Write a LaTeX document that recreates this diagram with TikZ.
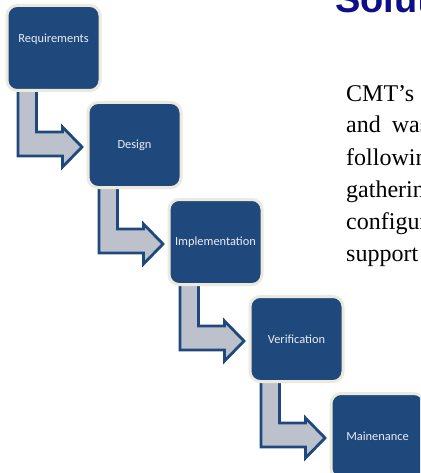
\documentclass[tikz,border=0pt]{standalone}
\usepackage{fontspec}
\setmainfont{Liberation Serif}
\newfontfamily\boxfont{Carlito}
\newfontfamily\titlefont{Liberation Sans}
\usetikzlibrary{calc,backgrounds}
\definecolor{boxblue}{HTML}{1F497D}
\definecolor{boxrim}{HTML}{ECEADC}
\definecolor{arrowfill}{HTML}{BDC1CC}
\definecolor{arrowline}{HTML}{1F497D}
\definecolor{titleblue}{RGB}{14,14,138}
\definecolor{boxtext}{RGB}{232,237,244}
\tikzset{
  stage/.style={draw=boxrim, line width=3pt, fill=boxblue, rounded corners=10pt,
    minimum width=93pt, minimum height=85pt, inner sep=0pt},
  stagetext/.style={text=boxtext, font=\boxfont\fontsize{12.4}{14}\selectfont, inner sep=0pt},
  flowarrow/.style={draw=arrowline, line width=2.8pt, fill=arrowfill, line join=miter},
  bodyline/.style={anchor=base west, inner sep=0pt, font=\fontsize{24}{30}\selectfont},
}
\newcommand{\stagearrow}[2]{%
  \draw[flowarrow] ($(#1.south west)+(12.5,-3)$) -- ($(#1.south west)+(12.5,64)$)
    -- ($(#1.south west)+(57,64)$) -- ($(#1.south west)+(57,75)$)
    -- ($(#2.west)+(-4.5,2)$) -- ($(#1.south west)+(57,35)$)
    -- ($(#1.south west)+(57,40)$) -- ($(#1.south west)+(31,40)$)
    -- ($(#1.south west)+(31,-3)$) -- cycle;}
\begin{document}
\begin{tikzpicture}[x=1pt,y=-1pt]
\useasboundingbox (0,0) rectangle (420,473);
\clip (0,0) rectangle (420,473);

% title
\node[anchor=base west, inner sep=0pt, text=titleblue,
      font=\titlefont\bfseries\fontsize{38}{44}\selectfont] (title) at (335,13) {Solut};

% body text
\node[bodyline] (p1) at (346,102) {CMT’s};
\node[bodyline] (p2) at (346,133) {and\hspace{5pt} was};
\node[bodyline] (p3) at (346,165) {followin};
\node[bodyline] (p4) at (346,197) {gatherin};
\node[bodyline] (p5) at (346,229) {configur};
\node[bodyline] (p6) at (346,261) {support};

% stages
\node[stage] (b1) at (53.5,48) {};
\node[stage] (b2) at (134.5,145) {};
\node[stage] (b3) at (215.5,242) {};
\node[stage] (b4) at (296.5,339) {};
\node[stage] (b5) at (377.5,436) {};

\node[stagetext] (t1) at (53.5,39) {Requirements};
\node[stagetext] (t2) at (b2) {Design};
\node[stagetext] (t3) at (b3) {Implementation};
\node[stagetext] (t4) at (b4) {Verification};
\node[stagetext] (t5) at (b5) {Mainenance};

\begin{pgfonlayer}{background}
\stagearrow{b1}{b2}
\stagearrow{b2}{b3}
\stagearrow{b3}{b4}
\stagearrow{b4}{b5}
\end{pgfonlayer}
\end{tikzpicture}
\end{document}
